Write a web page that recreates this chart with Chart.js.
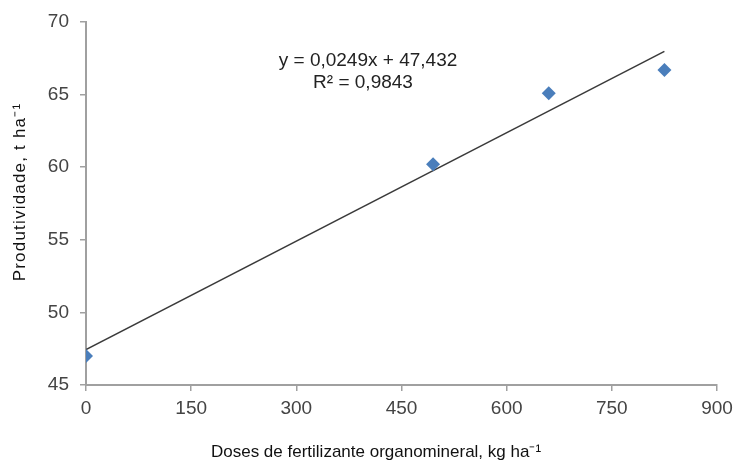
<!DOCTYPE html>
<html><head><meta charset="utf-8">
<script src="https://cdn.jsdelivr.net/npm/chart.js@4"></script>
<style>html,body{margin:0;padding:0;background:#fff}#wrap{width:735px;height:463px}</style>
</head><body><div id="wrap"><canvas id="c" width="735" height="463"></canvas></div>
<script>
const doses = [0, 495, 660, 825];
const produtividade = [47.0, 60.2, 65.1, 66.7];
const xTicks = [0, 150, 300, 450, 600, 750, 900];
const yTicks = [45, 50, 55, 60, 65, 70];
const slope = 0.0249, intercept = 47.432;
const trendX = [0, 825];
const eqLines = ['y = 0,0249x + 47,432', 'R² = 0,9843'];
const xTitle = 'Doses de fertilizante organomineral, kg ha⁻¹';
const yTitle = 'Produtividade, t ha⁻¹';

const font = "'Liberation Sans', Arial, sans-serif";
const textPlugin = {
  id: 'texts',
  afterDatasetsDraw(chart) {
    const ctx = chart.ctx;
    ctx.save();
    ctx.fillStyle = '#222';
    ctx.textAlign = 'center';
    ctx.textBaseline = 'middle';
    ctx.font = '19px ' + font;
    ctx.fillText(eqLines[0], 368, 61);
    ctx.fillText(eqLines[1], 363, 83);
    ctx.fillStyle = '#111';
    ctx.font = '17px ' + font;
    ctx.fillText(xTitle, 376, 452);
    ctx.translate(20, 192);
    ctx.rotate(-Math.PI / 2);
    if ('letterSpacing' in ctx) ctx.letterSpacing = '1.2px';
    ctx.fillText(yTitle, 0, 0);
    ctx.restore();
  }
};
new Chart(document.getElementById('c'), {
  type: 'scatter',
  data: {
    datasets: [
      { data: doses.map((x, i) => ({x, y: produtividade[i]})),
        pointStyle: 'rectRot', pointRadius: 7, pointHoverRadius: 7,
        backgroundColor: '#4A7EBB', borderColor: '#4A7EBB', borderWidth: 0, order: 1 },
      { type: 'line', data: trendX.map(x => ({x, y: slope * x + intercept})),
        borderColor: '#3a3a3a', borderWidth: 1.5, pointRadius: 0, fill: false, order: 2 }
    ]
  },
  options: {
    responsive: false, animation: false,
    layout: { padding: { left: 0, right: 18, top: 22, bottom: 0 } },
    plugins: { legend: { display: false }, tooltip: { enabled: false } },
    scales: {
      x: { type: 'linear', min: 0, max: 900,
        afterBuildTicks: s => { s.ticks = xTicks.map(v => ({value: v})); },
        afterFit: s => { s.height = 78; s.paddingRight = 0; s.paddingLeft = 0; },
        grid: { drawOnChartArea: false, drawTicks: true, tickLength: 6, color: '#a0a0a0', lineWidth: 1.5 },
        border: { color: '#a0a0a0', width: 2 },
        ticks: { color: '#444', font: { family: font, size: 19 }, padding: 6 },
        title: { display: false } },
      y: { min: 45, max: 70,
        afterBuildTicks: s => { s.ticks = yTicks.map(v => ({value: v})); },
        afterFit: s => { s.width = 86; s.paddingTop = 0; s.paddingBottom = 0; },
        grid: { drawOnChartArea: false, drawTicks: true, tickLength: 6, color: '#a0a0a0', lineWidth: 1.5 },
        border: { color: '#a0a0a0', width: 2 },
        ticks: { color: '#444', font: { family: font, size: 19 }, padding: 11 },
        title: { display: false } }
    }
  },
  plugins: [textPlugin]
});
</script></body></html>
